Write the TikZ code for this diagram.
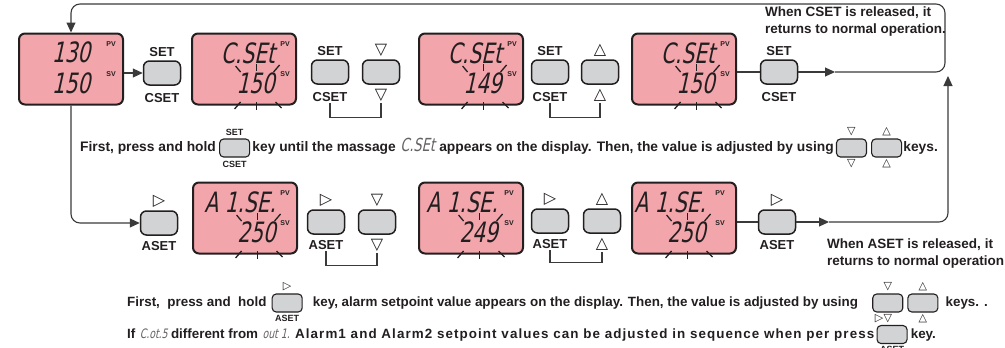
\documentclass[tikz,border=0pt]{standalone}
\usepackage{fontspec}
\setmainfont{Liberation Sans}
\newfontfamily\segfont[FakeSlant=0.22,FakeStretch=0.72]{DejaVu Sans}
\newfontfamily\symfont{DejaVu Sans}
\usetikzlibrary{arrows.meta,positioning}
\definecolor{lcdpink}{HTML}{F2A5AA}
\definecolor{keygray}{HTML}{D1D3D4}
\definecolor{ink}{HTML}{231F20}
\definecolor{wirecol}{HTML}{3A3A3A}
% six short strokes round a blinking value
\newcommand{\flickmarks}[1]{%
  \begin{scope}[shift={(#1)}]
    \draw[blinkmark] (-20,-17) -- (-15,-11);
    \draw[blinkmark] (1,-19) -- (1,-12);
    \draw[blinkmark] (18,-11) -- (24,-18);
    \draw[blinkmark] (-21,26) -- (-15,19);
    \draw[blinkmark] (1,19) -- (1,27);
    \draw[blinkmark] (20,19) -- (26,25);
  \end{scope}}

\begin{document}
\begin{tikzpicture}[x=1pt, y=-1pt, >={Triangle[length=10pt,width=9pt]},
  inner sep=0pt, text=ink, font=\bfseries\fontsize{13.5}{17}\selectfont,
  lcdbox/.style={draw=ink, line width=2pt, rounded corners=6pt, fill=lcdpink,
    minimum width=104pt, minimum height=71pt},
  keybox/.style={draw=ink, line width=1.5pt, rounded corners=6pt, fill=keygray,
    minimum width=37pt, minimum height=24pt},
  smallkey/.style={keybox, line width=1.1pt, rounded corners=4pt,
    minimum width=30pt, minimum height=18pt},
  segtxt/.style={font=\segfont\fontsize{28}{28}\selectfont},
  segsmall/.style={font=\segfont\fontsize{18}{18}\selectfont, text=ink!70},
  segtiny/.style={font=\segfont\fontsize{13}{13}\selectfont, text=ink!70},
  pvtag/.style={font=\bfseries\fontsize{7}{7}\selectfont},
  keylab/.style={font=\bfseries\fontsize{13}{13}\selectfont},
  minilab/.style={font=\bfseries\fontsize{9}{9}\selectfont},
  tritxt/.style={font=\symfont\fontsize{16}{16}\selectfont},
  minitri/.style={font=\symfont\fontsize{11}{11}\selectfont},
  midtxt/.style={font=\bfseries\fontsize{13.8}{17}\selectfont},
  lowtxt/.style={font=\bfseries\fontsize{13.4}{17}\selectfont},
  widetxt/.style={font=\bfseries\fontsize{13.4}{17}\selectfont\addfontfeatures{LetterSpace=8}},
  link/.style={draw=wirecol, line width=1.1pt},
  blinkmark/.style={draw=ink, line width=1.3pt}]
\useasboundingbox (0,0) rectangle (1005,348);

% displays
\node[lcdbox] (d1) at (71,69) {};
\node[segtxt] (d1-pv) at (71,52) {130};
\node[segtxt] (d1-sv) at (71,83) {150};
\node[pvtag] at (111,44) {PV};
\node[pvtag] at (111,74) {SV};
\foreach \n/\cx/\cy/\pv/\sv/\dx/\tx in {d2/244/69/C.SEt/150/31/41, d3/471/69/C.SEt/149/31/41,
    d4/684/69/C.SEt/150/31/41, e1/245/218/A 1.SE./250/31/40, e2/471/218/A 1.SE./249/27/38,
    e3/684/218/A 1.SE./250/22/36}{
  \node[lcdbox] (\n) at (\cx,\cy) {};
  \node[segtxt, anchor=east] (\n-pv) at (\cx+\dx,\cy-16) {\pv};
  \node[segtxt, anchor=east] (\n-sv) at (\cx+\dx,\cy+14) {\sv};
  \node[pvtag] at (\cx+\tx,\cy-25) {PV};
  \node[pvtag] at (\cx+\tx,\cy+5) {SV};
  \flickmarks{\n-sv}
}

% keys, top row
\node[keybox] (k1) at (162,73) {};
\node[keybox] (k2) at (330,72) {};
\node[keybox] (k2d) at (381,72) {};
\node[keybox] (k3) at (550,72) {};
\node[keybox] (k3u) at (600,72) {};
\node[keybox] (k4) at (779,72) {};
\foreach \k in {k1,k2,k3,k4}{
  \node[keylab, above=3pt of \k] {SET};
  \node[keylab, below=7pt of \k] (\k-lo) {CSET};
}
\node[tritxt, above=3pt of k2d] {▽};
\node[tritxt, below=4pt of k2d] (k2d-lo) {▽};
\node[tritxt, above=3pt of k3u] {△};
\node[tritxt, below=4pt of k3u] (k3u-lo) {△};

% keys, bottom row
\node[keybox] (a1) at (159,223) {};
\node[keybox] (a2) at (326,222) {};
\node[keybox] (a2d) at (377,222) {};
\node[keybox] (a3) at (550,221) {};
\node[keybox] (a3u) at (602,221) {};
\node[keybox] (a4) at (777,222) {};
\foreach \k in {a1,a2,a3,a4}{
  \node[tritxt, above=3pt of \k] {▷};
  \node[keylab, below=5pt of \k] (\k-lo) {ASET};
}
\node[tritxt, above=3pt of a2d] {▽};
\node[tritxt, below=4pt of a2d] (a2d-lo) {▽};
\node[tritxt, above=3pt of a3u] {△};
\node[tritxt, below=4pt of a3u] (a3u-lo) {△};

% brackets joining the keys pressed together
\draw[link] ([yshift=-2pt]k2-lo.south) -- ++(0,14) -| ([yshift=-2pt]k2d-lo.south);
\draw[link] ([yshift=-2pt]k3-lo.south) -- ++(0,14) -| ([yshift=-2pt]k3u-lo.south);
\draw[link] ([yshift=-2pt]a2-lo.south) -- ++(0,14) -| ([yshift=-2pt]a2d-lo.south);
\draw[link] ([yshift=-2pt]a3-lo.south) -- ++(0,12) -| ([yshift=-2pt]a3u-lo.south);

% flow lines
\draw[link, ->] (d1.east |- k1) -- (k1.west);
\draw[link] (d4.east |- k4) -- (k4.west);
\coordinate (cret) at (835,72);
\coordinate (ctr) at (945,4);
\draw[link, ->] (k4.east) -- (cret);
\draw[link, rounded corners=9pt, ->] (cret) -- (cret -| ctr) -- (ctr) -- (ctr -| d1.north) -- (d1.north);
\draw[link, rounded corners=9pt, ->] (d1.south) -- (d1.south |- a1) -- (a1.west);
\draw[link] (e3.east |- a4) -- (a4.west);
\coordinate (aret) at (829,222);
\coordinate (cbr) at (948,76);
\draw[link, ->] (a4.east) -- (aret);
\draw[link, rounded corners=9pt, ->] (aret) -- (aret -| cbr) -- (cbr);

% notes beside the returns
\node[anchor=north west, align=left] (cnote) at (765,7)
  {When CSET is released, it\\returns to normal operation.};
\node[anchor=north west, align=left] (anote) at (827,239)
  {When ASET is released, it\\returns to normal operation};

% CSET description
\node[midtxt, anchor=west] (m1) at (80,148) {First, press and hold};
\node[smallkey, right=3pt of m1] (mk1) {};
\node[minilab, above=3pt of mk1] {SET};
\node[minilab, below=3pt of mk1] {CSET};
\node[midtxt, right=2pt of mk1] (m2) {key until the massage};
\node[segsmall, base right=4pt of m2] (m3) {C.SEt};
\node[midtxt, base right=4pt of m3] (m4) {appears on the display. Then, the value is adjusted by using};
\node[smallkey, right=2pt of m4] (mk2) {};
\node[smallkey, right=4pt of mk2] (mk3) {};
\node[minitri, above=2pt of mk2] {▽};
\node[minitri, below=2pt of mk2] {▽};
\node[minitri, above=2pt of mk3] {△};
\node[minitri, below=2pt of mk3] {△};
\node[midtxt, right=1pt of mk3] (m5) {keys.};

% ASET description
\node[lowtxt, anchor=west] (n1) at (127,303) {First,\ \ press and\ \ hold};
\node[smallkey, right=5pt of n1] (nk1) {};
\node[minitri, above=2pt of nk1] {▷};
\node[minilab, below=2pt of nk1] {ASET};
\node[lowtxt, right=10pt of nk1] (n2) {key, alarm setpoint value appears on the display. Then, the value is adjusted by using};
\node[smallkey, right=14pt of n2] (nk2) {};
\node[smallkey, right=4pt of nk2] (nk3) {};
\node[minitri, above=2pt of nk2] {▽};
\node[minitri, below=2pt of nk2] {▽};
\node[minitri, above=2pt of nk3] {△};
\node[minitri, below=2pt of nk3] {△};
\node[lowtxt, right=7pt of nk3] (n3) {keys. .};
\node[lowtxt, anchor=base west] (p1) at (127,338) {If};
\node[segtiny, base right=4pt of p1] (p2) {C.ot.5};
\node[lowtxt, base right=3pt of p2] (p3) {different from};
\node[segtiny, base right=4pt of p3] (p4) {out 1.};
\node[widetxt, base right=5pt of p4] (p5) {Alarm1 and Alarm2 setpoint values can be adjusted in sequence when per press};
\node[smallkey, right=2pt of p5] (pk1) {};
\node[minitri, above=2pt of pk1, xshift=-13pt] {▷};
\node[minilab, below=2pt of pk1] {ASET};
\node[lowtxt, right=3pt of pk1] (p6) {key.};
\end{tikzpicture}
\end{document}
